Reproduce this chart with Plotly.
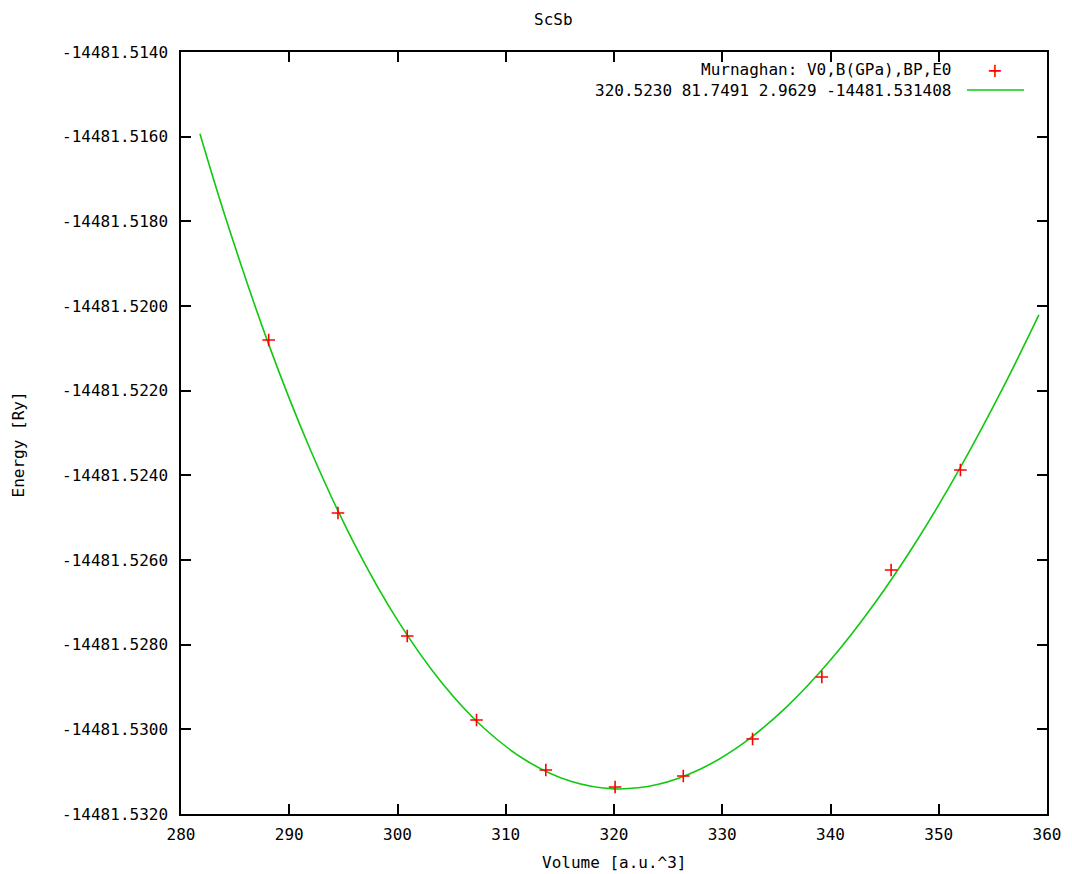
import plotly.graph_objects as go

# Data points
volume_pts = [288.1, 294.5, 300.9, 307.3, 313.7, 320.1, 326.4, 332.8, 339.2, 345.6, 352.0]
energy_pts = [-14481.520803, -14481.524890, -14481.527795, -14481.529780, -14481.530961,
              -14481.531362, -14481.531103, -14481.530229, -14481.528764, -14481.526236,
              -14481.523874]

# Fitted curve samples
volume_fit = [281.75, 284, 288, 292, 296, 300, 304, 308, 312, 316, 320, 324, 328, 332,
              336, 340, 344, 348, 352, 356, 359.25]
energy_fit = [-14481.515932, -14481.517819, -14481.520835, -14481.523424, -14481.525612,
              -14481.527420, -14481.528868, -14481.529975, -14481.530755, -14481.531228,
              -14481.531406, -14481.531305, -14481.530937, -14481.530318, -14481.529456,
              -14481.528364, -14481.527053, -14481.525534, -14481.523812, -14481.521899,
              -14481.520211]

x_ticks = [280, 290, 300, 310, 320, 330, 340, 350, 360]
y_ticks = [-14481.5320, -14481.5300, -14481.5280, -14481.5260, -14481.5240,
           -14481.5220, -14481.5200, -14481.5180, -14481.5160, -14481.5140]
y_ticklabels = ["%.4f" % v for v in y_ticks]

title_text = "ScSb"
x_title = "Volume [a.u.^3]"
y_title = "Energy [Ry]"
legend_1 = "Murnaghan: V0,B(GPa),BP,E0"
legend_2 = "320.5230 81.7491 2.9629 -14481.531408"

FONT = "DejaVu Sans Mono"
FS = 16
RED = "#ff0000"
GREEN = "#11c811"

fig = go.Figure()
fig.add_trace(go.Scatter(x=volume_fit, y=energy_fit, mode="lines",
                         line=dict(color=GREEN, width=1.6, shape="spline"),
                         showlegend=False, hoverinfo="skip"))
fig.add_trace(go.Scatter(x=volume_pts, y=energy_pts, mode="markers",
                         marker=dict(symbol="cross-thin", size=9,
                                     line=dict(color=RED, width=1.6), color=RED),
                         showlegend=False))

axis_common = dict(showline=True, linecolor="black", linewidth=1.5, mirror="allticks",
                   ticks="inside", ticklen=10, tickwidth=1.5, tickcolor="black",
                   showgrid=False, zeroline=False,
                   tickfont=dict(family=FONT, size=FS, color="black"))

fig.update_xaxes(range=[280, 360], tickvals=x_ticks, ticklabelstandoff=5, **axis_common)
fig.update_yaxes(range=[-14481.5320, -14481.5140], tickvals=y_ticks, ticktext=y_ticklabels,
                 ticklabelstandoff=8, **axis_common)

annotations = [
    dict(text=title_text, x=0.4296, y=1.0433, xref="paper", yref="paper",
         showarrow=False, xanchor="center", yanchor="middle",
         font=dict(family=FONT, size=FS, color="black")),
    dict(text=x_title, x=0.5, y=0, xref="paper", yref="paper", yshift=-48,
         showarrow=False, xanchor="center", yanchor="middle",
         font=dict(family=FONT, size=FS, color="black")),
    dict(text=y_title, x=0, y=0.485, xref="paper", yref="paper", xshift=-163,
         showarrow=False, xanchor="center", yanchor="middle", textangle=-90,
         font=dict(family=FONT, size=FS, color="black")),
    dict(text=legend_1, x=0.8915, y=0.9764, xref="paper", yref="paper",
         showarrow=False, xanchor="right", yanchor="middle",
         font=dict(family=FONT, size=FS, color="black")),
    dict(text=legend_2, x=0.8915, y=0.9501, xref="paper", yref="paper",
         showarrow=False, xanchor="right", yanchor="middle",
         font=dict(family=FONT, size=FS, color="black")),
    dict(text="+", x=0.940, y=0.9764, xref="paper", yref="paper",
         showarrow=False, xanchor="center", yanchor="middle",
         font=dict(family="DejaVu Sans", size=19, color=RED)),
]
shapes = [
    dict(type="line", xref="paper", yref="paper", x0=0.9076, x1=0.9734,
         y0=0.9501, y1=0.9501, line=dict(color=GREEN, width=1.6)),
]

fig.update_layout(width=1072, height=874,
                  margin=dict(l=181, r=25, t=52, b=60),
                  paper_bgcolor="white", plot_bgcolor="white",
                  annotations=annotations, shapes=shapes, showlegend=False)

fig.write_html("out.html")
